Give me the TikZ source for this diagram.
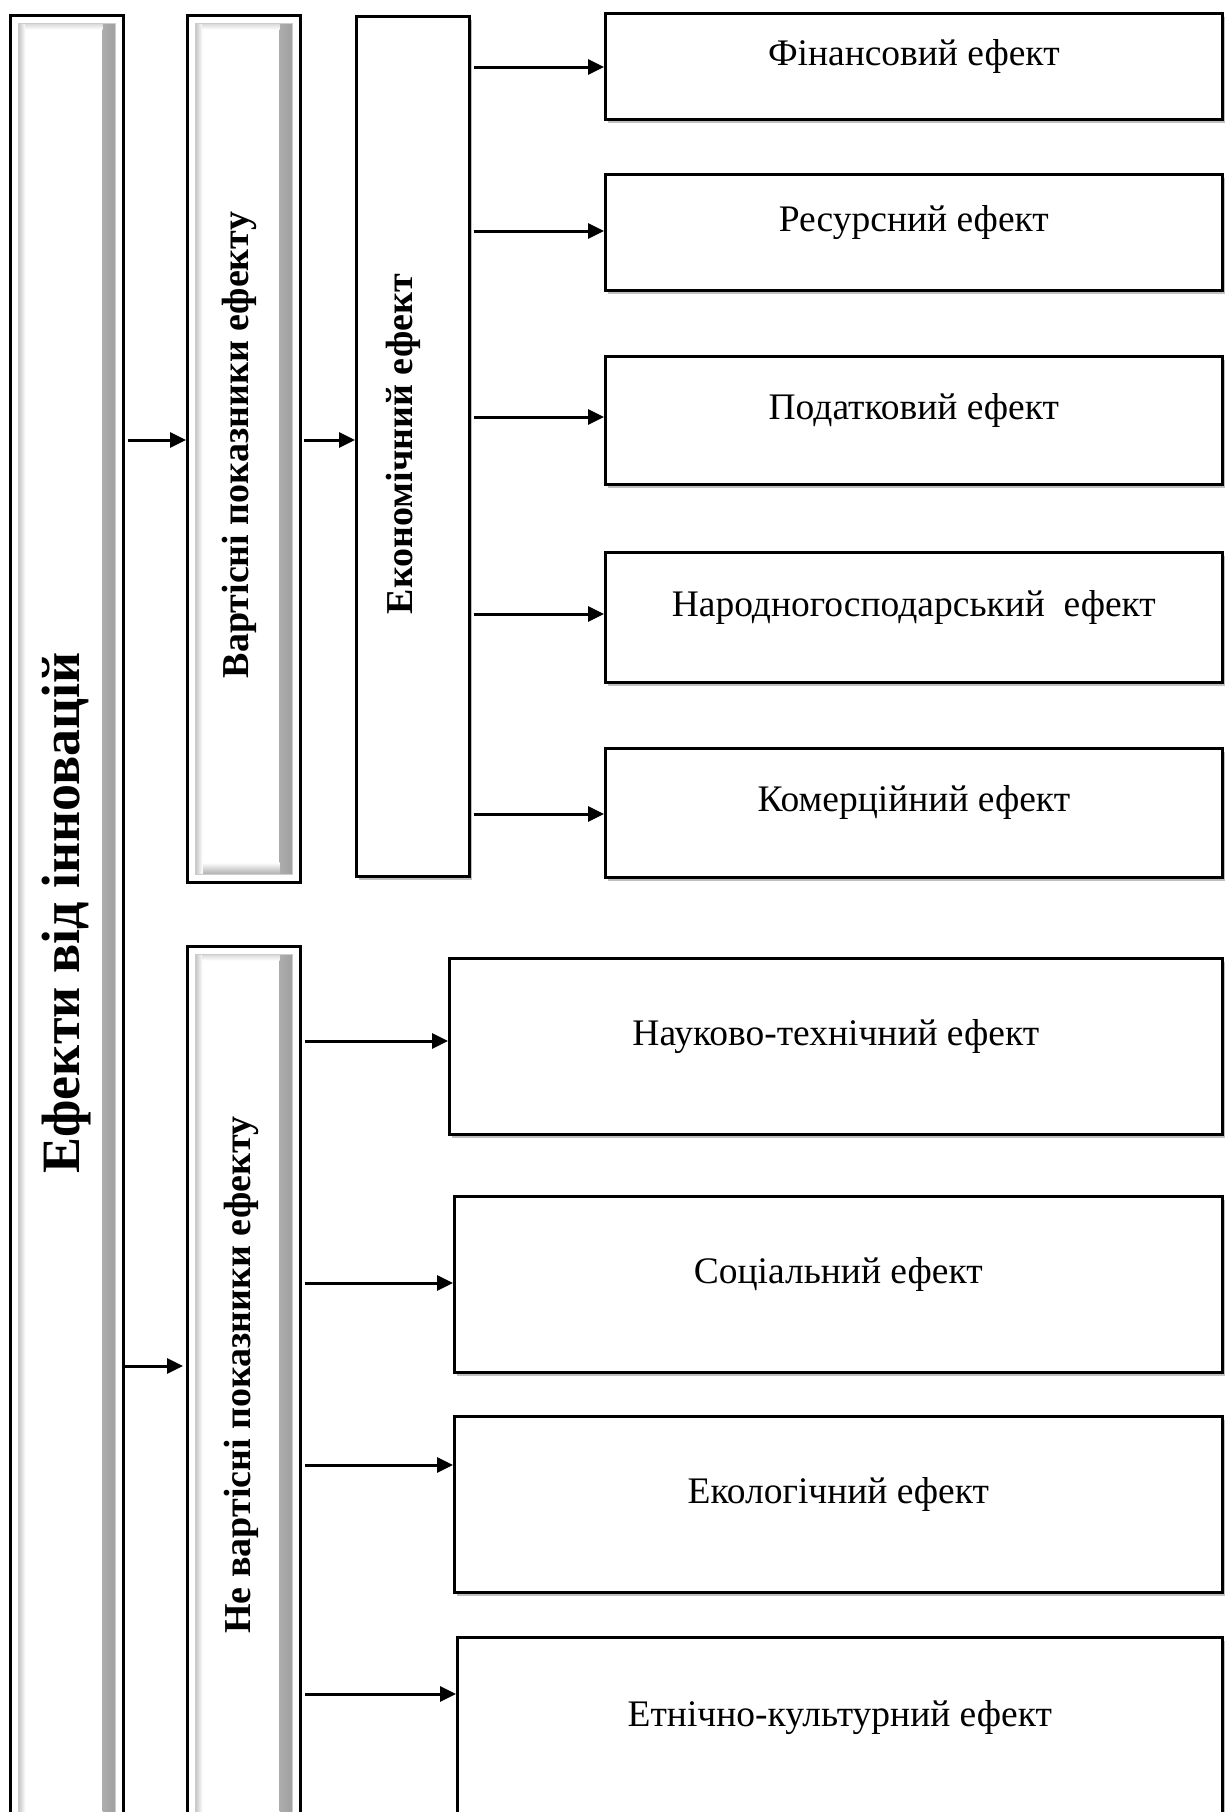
\documentclass[tikz,border=0pt]{standalone}
\usepackage{fontspec}
\setmainfont{Liberation Serif}
\usetikzlibrary{arrows.meta,shadows}
\begin{document}
\begin{tikzpicture}[x=1pt,y=-1pt,
  arr/.style={line width=3pt,-{Triangle[length=16pt,width=15pt]}},
  rbox/.style={draw,line width=2.6pt,fill=white,anchor=north west,
     drop shadow={shadow xshift=3pt,shadow yshift=-4pt,opacity=0.25,fill=black}},
  bevel/.style={draw,line width=3pt,fill=white,anchor=north west,
    path picture={
      \shade[left color=white,right color=gray!80]
        ([xshift=-21pt,yshift=-9pt]path picture bounding box.north east) rectangle
        ([xshift=-8pt,yshift=8pt]path picture bounding box.south east);
      \shade[top color=white,bottom color=gray!65]
        ([xshift=9pt,yshift=20pt]path picture bounding box.south west) rectangle
        ([xshift=-21pt,yshift=8pt]path picture bounding box.south east);
      \shade[left color=gray!45,right color=white]
        ([xshift=8pt,yshift=-8pt]path picture bounding box.north west) rectangle
        ([xshift=15pt,yshift=8pt]path picture bounding box.south west);
      \shade[top color=gray!30,bottom color=white]
        ([xshift=15pt,yshift=-8pt]path picture bounding box.north west) rectangle
        ([xshift=-21pt,yshift=-14pt]path picture bounding box.north east);
      \draw[gray!40,line width=0.8pt]
        ([xshift=8pt,yshift=-8pt]path picture bounding box.north west) rectangle
        ([xshift=-8pt,yshift=8pt]path picture bounding box.south east);
    }},
  vt/.style={rotate=90,font=\bfseries\fontsize{38}{40}\selectfont},
  txt/.style={font=\fontsize{37.5}{40}\selectfont}
]
\clip (0,0) rectangle (1225,1812);
\fill[white] (0,0) rectangle (1225,1812);

% left column
\node[bevel,minimum width=113pt,minimum height=1816pt] (big) at (9,14) {};
\node[rotate=90,font=\bfseries\fontsize{54}{56}\selectfont] (tbig) at (67,913) {Ефекти від інновацій};

\node[bevel,minimum width=113pt,minimum height=867pt] (vart) at (186,14) {};
\node[vt] (tvart) at (239,445) {Вартісні показники ефекту};

\node[bevel,minimum width=113pt,minimum height=885pt] (nvart) at (186,945) {};
\node[vt] (tnvart) at (241,1375) {Не вартісні показники ефекту};

\node[rbox,minimum width=113pt,minimum height=860pt] (econ) at (355,15) {};
\node[vt] (tecon) at (403,444) {Економічний ефект};

% right boxes, top group
\node[rbox,minimum width=617pt,minimum height=106pt] (b1) at (604,12) {};
\node[rbox,minimum width=617pt,minimum height=116pt] (b2) at (604,173) {};
\node[rbox,minimum width=617pt,minimum height=128pt] (b3) at (604,355) {};
\node[rbox,minimum width=617pt,minimum height=130pt] (b4) at (604,551) {};
\node[rbox,minimum width=617pt,minimum height=129pt] (b5) at (604,747) {};

\node[txt] (t1) at ([yshift=10pt]b1.center) {Фінансовий ефект};
\node[txt] (t2) at ([yshift=10pt]b2.center) {Ресурсний ефект};
\node[txt] (t3) at ([yshift=10pt]b3.center) {Податковий ефект};
\node[txt] (t4) at ([yshift=10pt]b4.center) {Народногосподарський\ \ ефект};
\node[txt] (t5) at ([yshift=10pt]b5.center) {Комерційний ефект};

% bottom group
\node[rbox,minimum width=773pt,minimum height=176pt] (c1) at (448,957) {};
\node[rbox,minimum width=768pt,minimum height=176pt] (c2) at (453,1195) {};
\node[rbox,minimum width=768pt,minimum height=176pt] (c3) at (453,1415) {};
\node[rbox,minimum width=765pt,minimum height=190pt] (c4) at (456,1636) {};

\node[txt] (u1) at ([yshift=10pt]c1.center) {Науково-технічний ефект};
\node[txt] (u2) at ([yshift=10pt]c2.center) {Соціальний ефект};
\node[txt] (u3) at ([yshift=10pt]c3.center) {Екологічний ефект};
\node[txt] (u4) at ([yshift=15pt]c4.center) {Етнічно-культурний ефект};

% arrows
\draw[arr] ([xshift=3pt]big.east |- 0,440) -- (vart.west |- 0,440);
\draw[arr] ([xshift=2pt]vart.east |- 0,440) -- (econ.west |- 0,440);
\draw[arr] ([xshift=3pt]econ.east |- 0,67) -- (b1.west |- 0,67);
\draw[arr] ([xshift=3pt]econ.east |- 0,231) -- (b2.west |- 0,231);
\draw[arr] ([xshift=3pt]econ.east |- 0,417) -- (b3.west |- 0,417);
\draw[arr] ([xshift=3pt]econ.east |- 0,614) -- (b4.west |- 0,614);
\draw[arr] ([xshift=3pt]econ.east |- 0,814) -- (b5.west |- 0,814);
\draw[arr] ([xshift=0pt]big.east |- 0,1366) -- ([xshift=-3pt]nvart.west |- 0,1366);
\draw[arr] ([xshift=3pt]nvart.east |- 0,1041) -- (c1.west |- 0,1041);
\draw[arr] ([xshift=3pt]nvart.east |- 0,1283) -- (c2.west |- 0,1283);
\draw[arr] ([xshift=3pt]nvart.east |- 0,1465) -- (c3.west |- 0,1465);
\draw[arr] ([xshift=3pt]nvart.east |- 0,1694) -- (c4.west |- 0,1694);
\end{tikzpicture}
\end{document}
